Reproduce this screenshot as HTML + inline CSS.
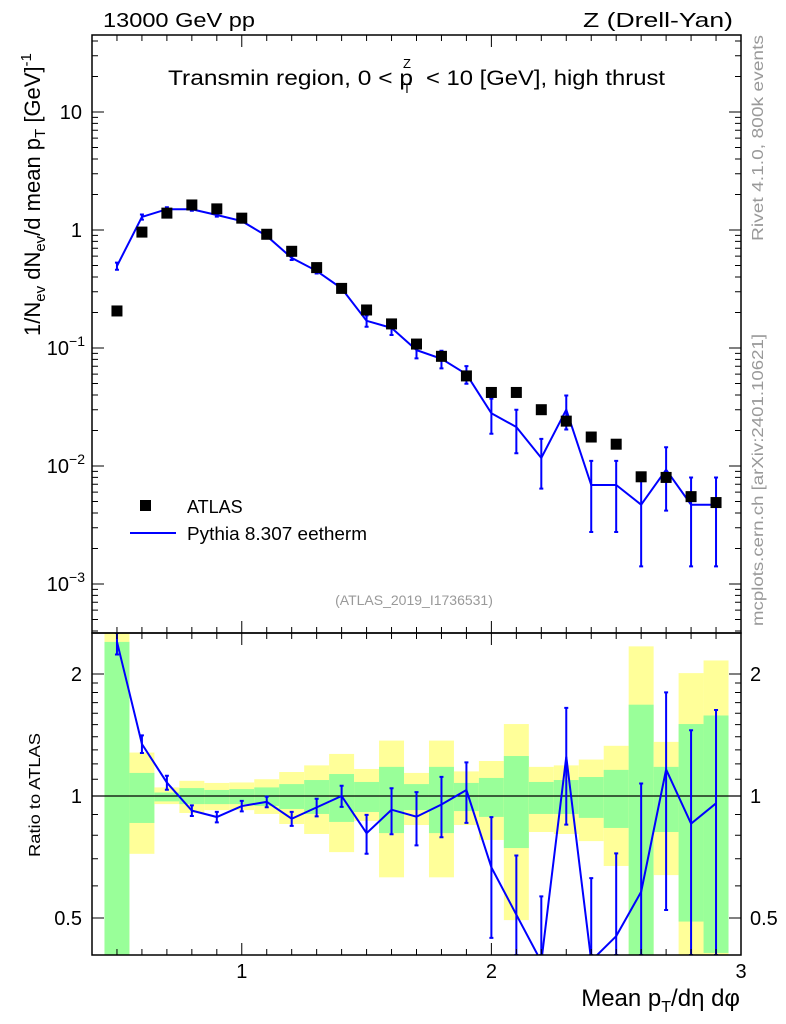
<!DOCTYPE html>
<html><head><meta charset="utf-8"><style>
body{margin:0;background:#fff;}
svg{display:block;font-family:"Liberation Sans",sans-serif;}
</style></head><body>
<svg id="c" width="786" height="1024" viewBox="0 0 786 1024" xmlns="http://www.w3.org/2000/svg">
<g id="bands"></g><g id="marks"></g><g id="axes"></g>
<text x="103" y="27" font-size="20" textLength="152" lengthAdjust="spacingAndGlyphs">13000 GeV pp</text>
<text x="583" y="27" font-size="20" textLength="150" lengthAdjust="spacingAndGlyphs">Z (Drell-Yan)</text>
<g>
<text x="168" y="85" font-size="21" textLength="245" lengthAdjust="spacingAndGlyphs">Transmin region, 0 &lt; p</text>
<text x="403" y="93" font-size="13">T</text>
<text x="403" y="68" font-size="13">Z</text>
<text x="426" y="85" font-size="21" textLength="239" lengthAdjust="spacingAndGlyphs">&lt; 10 [GeV], high thrust</text>
</g>
<text x="414" y="605" font-size="14" fill="#999" text-anchor="middle">(ATLAS_2019_I1736531)</text>
<text transform="translate(763,241) rotate(-90)" font-size="16" fill="#999" textLength="206" lengthAdjust="spacingAndGlyphs">Rivet 4.1.0,  800k events</text>
<text transform="translate(763,626) rotate(-90)" font-size="16" fill="#999" textLength="292" lengthAdjust="spacingAndGlyphs">mcplots.cern.ch [arXiv:2401.10621]</text>
<text transform="translate(40,336) rotate(-90)" font-size="22">1/N<tspan font-size="15" dy="5">ev</tspan><tspan dy="-5"> dN</tspan><tspan font-size="15" dy="5">ev</tspan><tspan dy="-5">/d mean p</tspan><tspan font-size="15" dy="5">T</tspan><tspan dy="-5"> [GeV]</tspan><tspan font-size="15" dy="-9">-1</tspan></text>
<text transform="translate(40,857) rotate(-90)" font-size="16" textLength="124" lengthAdjust="spacingAndGlyphs">Ratio to ATLAS</text>
<text x="740" y="1006" font-size="24" text-anchor="end">Mean p<tspan font-size="16" dy="6">T</tspan><tspan dy="-6">/dη dφ</tspan></text>
<rect x="140" y="500" width="11" height="11" fill="#000"/>
<text x="187" y="513" font-size="18">ATLAS</text>
<line x1="130" y1="533" x2="176" y2="533" stroke="#00f" stroke-width="2"/>
<text x="187" y="540" font-size="18" textLength="180" lengthAdjust="spacingAndGlyphs">Pythia 8.307 eetherm</text>
</svg>
<script>
const xCenters=[0.5,0.6,0.7,0.8,0.9,1.0,1.1,1.2,1.3,1.4,1.5,1.6,1.7,1.8,1.9,2.0,2.1,2.2,2.3,2.4,2.5,2.6,2.7,2.8,2.9];
const atlasValues=[0.206,0.96,1.39,1.63,1.51,1.26,0.92,0.66,0.48,0.32,0.21,0.16,0.108,0.085,0.058,0.042,0.042,0.030,0.024,0.0176,0.0153,0.0081,0.0080,0.0055,0.0049];
const mcValues=[0.495,1.29,1.5,1.5,1.34,1.19,0.89,0.58,0.45,0.32,0.17,0.148,0.096,0.081,0.060,0.028,0.0214,0.0117,0.030,0.0069,0.0069,0.0047,0.0093,0.0047,0.0047];
const mcRelErr=[0.07,0.05,0.04,0.03,0.03,0.03,0.03,0.04,0.05,0.06,0.11,0.13,0.15,0.17,0.17,0.33,0.4,0.45,0.32,0.6,0.6,0.85,0.55,0.7,0.7];
const greenUp=[2.4,1.14,1.02,1.046,1.035,1.04,1.05,1.07,1.095,1.133,1.083,1.18,1.07,1.18,1.077,1.108,1.255,1.083,1.095,1.114,1.16,1.68,1.18,1.505,1.58];
const greenDn=[0.3,0.858,0.97,0.955,0.955,0.955,0.945,0.929,0.903,0.863,0.913,0.81,0.923,0.81,0.918,0.888,0.744,0.903,0.903,0.883,0.834,0.3,0.815,0.49,0.41];
const yellowUp=[2.6,1.28,1.05,1.09,1.077,1.08,1.10,1.146,1.19,1.27,1.166,1.37,1.14,1.37,1.15,1.22,1.505,1.18,1.19,1.23,1.33,2.34,1.36,2.01,2.16];
const yellowDn=[0.3,0.72,0.955,0.908,0.923,0.923,0.903,0.853,0.806,0.727,0.868,0.63,0.848,0.63,0.848,0.779,0.494,0.815,0.806,0.774,0.672,0.3,0.638,0.3,0.3];
const mainTicks=[{v:10,t:"10"},{v:1,t:"1"},{v:0.1,t:"10",e:"−1"},{v:0.01,t:"10",e:"−2"},{v:0.001,t:"10",e:"−3"}];
const ratioTicks=[{v:2,t:"2"},{v:1,t:"1"},{v:0.5,t:"0.5"}];
const xTicks=[1,2,3];

const NS="http://www.w3.org/2000/svg";
const L=92,R=741,T=35,MB=633,RB=955;
const X=v=>L+(v-0.4)*(R-L)/2.6;
const Ym=v=>230-118*Math.log10(v);
const Yr=v=>796-122*Math.log2(v);
const clampR=y=>Math.max(MB,Math.min(RB,y));
function mk(tag,attrs,parent){const e=document.createElementNS(NS,tag);for(const k in attrs)e.setAttribute(k,attrs[k]);parent.appendChild(e);return e;}
const bands=document.getElementById('bands'),marks=document.getElementById('marks'),axes=document.getElementById('axes');
const hw=0.05;
xCenters.forEach((x,i)=>{
  const x0=X(x-hw),x1=X(x+hw);
  let y1=clampR(Yr(yellowUp[i])),y2=clampR(Yr(yellowDn[i]));
  const yb=mk('rect',{x:x0,y:y1,width:x1-x0,height:y2-y1,fill:'#ffff99'},bands);
  
  
  y1=clampR(Yr(greenUp[i]));y2=clampR(Yr(greenDn[i]));
  const gb=mk('rect',{x:x0,y:y1,width:x1-x0,height:y2-y1,fill:'#99ff99'},bands);
  
  
});
const one=mk('line',{x1:L,x2:R,y1:Yr(1),y2:Yr(1),stroke:'#000','stroke-width':1.2},marks);


let pts=xCenters.map((x,i)=>X(x)+','+Ym(mcValues[i])).join(' ');
const ml=mk('polyline',{points:pts,fill:'none',stroke:'#00f','stroke-width':2},marks);


const cp=mk('clipPath',{id:'rc'},marks);mk('rect',{x:L,y:MB,width:R-L,height:RB-MB},cp);
const ratios=xCenters.map((x,i)=>mcValues[i]/atlasValues[i]);
pts=xCenters.map((x,i)=>X(x)+','+Yr(ratios[i])).join(' ');
const rl=mk('polyline',{points:pts,fill:'none',stroke:'#00f','stroke-width':2,'clip-path':'url(#rc)'},marks);


xCenters.forEach((x,i)=>{
  const cx=X(x),e=mcRelErr[i];
  const yt=Ym(mcValues[i]*(1+e)),yb=Ym(mcValues[i]*Math.max(1-e,0.3));
  const eb=mk('path',{d:`M${cx},${yt}V${yb}M${cx-2},${yt}h4M${cx-2},${yb}h4`,stroke:'#00f','stroke-width':2,fill:'none'},marks);
  
  
  const r=ratios[i];
  const rt=clampR(Yr(r*(1+e))),rb=clampR(Yr(r*Math.max(1-e,0.05)));
  const re=mk('path',{d:`M${cx},${rt}V${rb}M${cx-2},${rt}h4M${cx-2},${rb}h4`,stroke:'#00f','stroke-width':2,fill:'none','clip-path':'url(#rc)'},marks);
  
  
  const sq=mk('rect',{x:cx-5.5,y:Ym(atlasValues[i])-5.5,width:11,height:11,fill:'#000'},marks);
  
  
});
[[T,MB],[MB,RB]].forEach(([a,b],k)=>{
  const f=mk('rect',{x:L,y:a,width:R-L,height:b-a,fill:'none',stroke:'#000','stroke-width':1.5},axes);
  
  
  for(let v=0.4;v<=3.0001;v+=0.1){
    const maj=xTicks.some(t=>Math.abs(t-v)<1e-6);const len=maj?12:6;const x=X(v);
    mk('path',{d:`M${x},${a}v${len}M${x},${b}v${-len}`,stroke:'#000','stroke-width':1},axes);
  }
});
for(let d=-4;d<=1;d++){for(let m=1;m<10;m++){const v=m*Math.pow(10,d);const y=Ym(v);if(y<T||y>MB)continue;const len=m==1?12:6;
  mk('path',{d:`M${L},${y}h${len}M${R},${y}h${-len}`,stroke:'#000','stroke-width':1},axes);}}
[0.5,0.6,0.7,0.8,0.9,1,1.1,1.2,1.3,1.4,1.5,1.6,1.7,1.8,1.9,2].forEach(v=>{const y=Yr(v);const len=(v==0.5||v==1||v==2)?12:6;
  mk('path',{d:`M${L},${y}h${len}M${R},${y}h${-len}`,stroke:'#000','stroke-width':1},axes);});
mainTicks.forEach(t=>{
  const tx=mk('text',{x:t.e?70:82,y:Ym(t.v)+7,'font-size':20,'text-anchor':'end'},axes);
  tx.textContent=t.t;
  
  
  if(t.e){const s=mk('tspan',{'font-size':14,dy:-9},tx);s.textContent=t.e;tx.setAttribute('x',85);}
});
ratioTicks.forEach(t=>{
  [[82,'end'],[750,'start']].forEach(([x,a])=>{
    const tx=mk('text',{x:x,y:Yr(t.v)+7,'font-size':20,'text-anchor':a},axes);
    tx.textContent=t.t;
    
    
  });
});
xTicks.forEach(v=>{
  const tx=mk('text',{x:X(v),y:978,'font-size':20,'text-anchor':'middle'},axes);
  tx.textContent=String(v);
  
  
});
</script>
</body></html>
